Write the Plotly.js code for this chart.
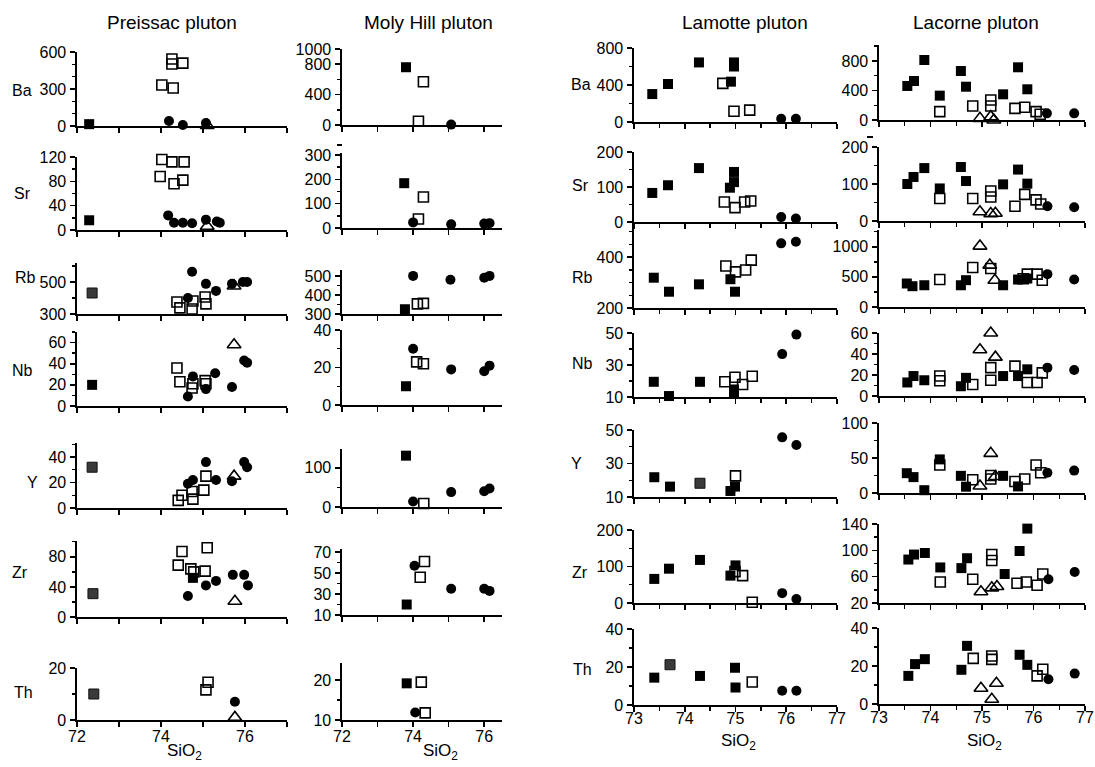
<!DOCTYPE html>
<html>
<head>
<meta charset="utf-8">
<script src="https://cdn.plot.ly/plotly-3.0.1.min.js"></script>
<style>html,body{margin:0;padding:0;background:#fff;}#chart{width:1095px;height:767px;}</style>
</head>
<body>
<div id="chart"></div>
<script>
// Groups: A = filled square, G = stippled (grey) square, B = open square, C = filled circle, D = open triangle
// Each point: [SiO2, element value, group]
const plutons = ['Preissac pluton', 'Moly Hill pluton', 'Lamotte pluton', 'Lacorne pluton'];
const elements = ['Ba', 'Sr', 'Rb', 'Nb', 'Y', 'Zr', 'Th'];

const preissacBa = [[72.29,15,'A'],[74.02,332,'B'],[74.26,543,'B'],[74.26,503,'B'],[74.52,510,'B'],[74.29,308,'B'],[74.19,40,'C'],[74.52,8,'C'],[75.07,24,'C'],[75.1,5,'D']];
const preissacSr = [[72.29,16,'A'],[74.02,116,'B'],[74.26,112,'B'],[74.55,112,'B'],[73.98,88,'B'],[74.31,76,'B'],[74.52,82,'B'],[74.17,24,'C'],[74.31,12,'C'],[74.52,12,'C'],[74.74,11,'C'],[75.07,17,'C'],[75.33,14,'C'],[75.4,12,'C'],[75.1,6,'D']];
const preissacRb = [[72.36,431,'G'],[74.38,375,'B'],[74.45,338,'B'],[74.76,381,'B'],[74.74,331,'B'],[75.05,406,'B'],[75.07,363,'B'],[74.64,400,'C'],[74.74,563,'C'],[75.07,488,'C'],[75.31,444,'C'],[75.69,488,'C'],[75.95,500,'C'],[76.05,500,'C'],[75.74,475,'D']];
const preissacNb = [[72.36,20,'A'],[74.38,36,'B'],[74.45,23,'B'],[74.74,17,'B'],[74.76,21,'B'],[75.05,24,'B'],[75.07,21,'B'],[74.76,28,'C'],[74.64,9,'C'],[75.07,16,'C'],[75.29,31,'C'],[75.69,18,'C'],[75.98,43,'C'],[76.05,41,'C'],[75.74,58,'D']];
const preissacY = [[72.36,32,'G'],[74.41,6,'B'],[74.5,10,'B'],[74.74,13,'B'],[74.76,7,'B'],[75.07,25,'B'],[75.02,14,'B'],[74.64,19,'C'],[74.76,22,'C'],[75.07,36,'C'],[75.31,22,'C'],[75.69,21,'C'],[75.98,36,'C'],[76.05,32,'C'],[75.74,25,'D']];
const preissacZr = [[72.38,31,'G'],[74.5,87,'B'],[74.41,69,'B'],[74.71,64,'B'],[74.78,60,'B'],[75.1,92,'B'],[75.05,61,'B'],[74.76,52,'A'],[74.64,28,'C'],[75.07,42,'C'],[75.31,48,'C'],[75.71,56,'C'],[75.98,56,'C'],[76.07,42,'C'],[75.76,21,'D']];
const preissacTh = [[72.4,10,'G'],[75.12,14.5,'B'],[75.07,11.6,'B'],[75.76,7,'C'],[75.76,1,'D']];

const molyBa = [[73.8,760,'A'],[74.29,570,'B'],[74.15,50,'B'],[75.07,5,'C']];
const molySr = [[73.75,184,'A'],[74.29,127,'B'],[74.15,37,'B'],[74.0,23,'C'],[75.07,15,'C'],[76.0,18,'C'],[76.15,20,'C']];
const molyRb = [[73.77,325,'A'],[74.12,353,'B'],[74.29,356,'B'],[74.0,500,'C'],[75.05,480,'C'],[76.0,490,'C'],[76.15,500,'C']];
const molyNb = [[73.8,10,'A'],[74.1,23,'B'],[74.29,22,'B'],[74.0,30,'C'],[75.07,19,'C'],[76.0,18,'C'],[76.15,21,'C']];
const molyY = [[73.8,131,'A'],[74.3,9,'B'],[74.0,14,'C'],[75.07,38,'C'],[76.0,40,'C'],[76.15,47,'C']];
const molyZr = [[73.82,20,'A'],[74.32,61,'B'],[74.2,46,'B'],[74.04,57,'C'],[75.07,35,'C'],[76.0,35,'C'],[76.15,33,'C']];
const molyTh = [[73.82,19.2,'A'],[74.23,19.5,'B'],[74.34,11.8,'B'],[74.06,11.9,'C']];

const lamotteBa = [[73.36,302,'A'],[73.67,411,'A'],[74.28,644,'A'],[74.97,644,'A'],[74.97,600,'A'],[74.91,436,'A'],[74.75,418,'B'],[74.97,117,'B'],[75.28,128,'B'],[75.9,36,'C'],[76.19,36,'C']];
const lamotteSr = [[73.36,83,'A'],[73.67,105,'A'],[74.28,154,'A'],[74.97,143,'A'],[74.97,114,'A'],[74.89,98,'A'],[74.78,57,'B'],[74.99,41,'B'],[75.18,57,'B'],[75.3,60,'B'],[75.9,14,'C'],[76.19,10,'C']];
const lamotteRb = [[73.39,319,'A'],[73.69,264,'A'],[74.28,293,'A'],[74.9,313,'A'],[74.99,264,'A'],[74.81,365,'B'],[75.0,342,'B'],[75.2,349,'B'],[75.31,388,'B'],[75.9,454,'C'],[76.19,460,'C']];
const lamotteNb = [[73.39,19.5,'A'],[73.69,10.6,'A'],[74.3,19.5,'A'],[74.97,14.7,'A'],[74.97,12.5,'A'],[74.79,19.5,'B'],[74.99,22.3,'B'],[75.14,17.8,'B'],[75.33,23,'B'],[75.92,36.8,'C'],[76.2,49,'C']];
const lamotteY = [[73.4,21.8,'A'],[73.71,16.2,'A'],[74.3,18.2,'G'],[74.9,13.6,'A'],[74.99,16.2,'A'],[75.0,22.6,'B'],[75.92,45.6,'C'],[76.2,41,'C']];
const lamotteZr = [[73.4,66,'A'],[73.69,94,'A'],[74.3,118,'A'],[75.0,103,'A'],[74.9,75,'A'],[74.99,86,'B'],[75.14,75,'B'],[75.33,2,'B'],[75.92,27,'C'],[76.2,11,'C']];
const lamotteTh = [[73.4,14.4,'A'],[73.71,21.2,'G'],[74.3,15.3,'A'],[74.99,19.6,'A'],[75.0,9.2,'A'],[75.33,12.1,'B'],[75.92,7.5,'C'],[76.2,7.5,'C']];

const lacorneBa = [[73.55,461,'A'],[73.68,528,'A'],[73.88,813,'A'],[74.18,330,'A'],[74.59,664,'A'],[74.69,451,'A'],[75.41,348,'A'],[75.7,714,'A'],[75.88,416,'A'],[74.18,113,'B'],[74.82,190,'B'],[75.17,271,'B'],[75.17,190,'B'],[75.64,158,'B'],[75.83,172,'B'],[76.05,113,'B'],[76.13,77,'B'],[74.96,22,'D'],[75.17,45,'D'],[75.23,0,'D'],[76.26,90,'C'],[76.79,90,'C']];
const lacorneSr = [[73.55,100,'A'],[73.67,119,'A'],[73.88,143,'A'],[74.18,88,'A'],[74.59,146,'A'],[74.69,108,'A'],[75.41,99,'A'],[75.7,139,'A'],[75.88,101,'A'],[74.18,61,'B'],[74.82,61,'B'],[75.17,81,'B'],[75.17,65,'B'],[75.64,40,'B'],[75.83,72,'B'],[76.05,57,'B'],[76.14,46,'B'],[75.64,-17,'B'],[74.96,25,'D'],[75.17,20,'D'],[75.26,21,'D'],[76.27,40,'C'],[76.79,37,'C']];
const lacorneRb = [[73.54,390,'A'],[73.65,345,'A'],[73.88,361,'A'],[74.59,361,'A'],[74.69,445,'A'],[75.41,361,'A'],[75.7,456,'A'],[75.88,472,'A'],[74.18,456,'B'],[74.82,656,'B'],[75.17,640,'B'],[75.88,545,'B'],[76.07,545,'B'],[76.17,445,'B'],[75.8,470,'B'],[74.96,1011,'D'],[75.15,695,'D'],[75.25,445,'D'],[76.27,545,'C'],[76.79,456,'C']];
const lacorneNb = [[73.55,12.9,'A'],[73.67,19,'A'],[73.88,15,'A'],[74.59,9.3,'A'],[74.69,17.3,'A'],[75.41,19,'A'],[75.7,19,'A'],[75.88,25.4,'A'],[74.18,19,'B'],[74.18,14.5,'B'],[74.82,11,'B'],[75.17,27,'B'],[75.17,15,'B'],[75.64,28.5,'B'],[75.88,12.9,'B'],[76.07,12.9,'B'],[76.17,22,'B'],[74.96,44,'D'],[75.17,60,'D'],[75.26,37,'D'],[76.27,27,'C'],[76.79,24.7,'C']];
const lacorneY = [[73.54,28.3,'A'],[73.67,22.7,'A'],[73.88,4,'A'],[74.18,48,'A'],[74.59,24.5,'A'],[74.69,9,'A'],[75.41,24.5,'A'],[75.7,9.4,'A'],[74.18,40,'B'],[74.82,19,'B'],[75.17,20,'B'],[75.17,25,'B'],[75.64,16.5,'B'],[75.83,20,'B'],[76.05,40,'B'],[76.14,29,'B'],[75.17,56.6,'D'],[74.96,10,'D'],[75.26,23.5,'D'],[76.27,29,'C'],[76.79,32,'C']];
const lacorneZr = [[73.57,86,'A'],[73.68,93.6,'A'],[73.89,96,'A'],[74.19,74,'A'],[74.6,73,'A'],[74.71,88,'A'],[75.44,64,'A'],[75.73,99,'A'],[75.88,133,'A'],[74.19,52,'B'],[74.82,56,'B'],[75.19,93.6,'B'],[75.19,84.6,'B'],[75.68,50,'B'],[75.86,52,'B'],[76.07,47,'B'],[76.18,64,'B'],[74.98,37,'D'],[75.19,43,'D'],[75.29,45,'D'],[76.29,56,'C'],[76.8,67,'C']];
const lacorneTh = [[73.57,14.8,'A'],[73.7,21,'A'],[73.89,23.6,'A'],[74.6,18,'A'],[74.71,30.6,'A'],[75.73,25.9,'A'],[75.88,20.6,'A'],[74.83,24,'B'],[75.19,25.3,'B'],[75.19,23.5,'B'],[76.07,14.8,'B'],[76.18,18.3,'B'],[74.98,8.3,'D'],[75.28,10.9,'D'],[75.19,2.5,'D'],[76.29,13,'C'],[76.8,16,'C']];

// Y-axis tick labels per column and element
const tickPreissac = [[0,300,600],[0,40,80,120],[300,500],[0,20,40,60],[0,20,40],[0,40,80],[0,20]];
const tickMoly     = [[0,400,800,1000],[0,100,200,300],[300,400,500],[0,20,40],[0,100],[10,30,50,70],[10,20]];
const tickLamotte  = [[0,400,800],[0,100,200],[200,400],[10,30,50],[10,30,50],[0,100,200],[0,20,40]];
const tickLacorne  = [[0,400,800],[0,100,200],[0,500,1000],[0,20,40,60],[0,50,100],[20,60,100,140],[0,20,40]];
const xTicksLeft  = [72,74,76];
const xTicksRight = [73,74,75,76,77];

// ---------- layout geometry (pixels) ----------
const W = 1095, H = 767;
const FONT = 'Liberation Sans, Arial, Helvetica, sans-serif';
const colGeo = [
  {x0:77,  x1:287, range:[72,77],   ticks:xTicksLeft,  minor:1,   standoff:-4, titleX:172, sioX:184, sioY:752},
  {x0:342, x1:502, range:[72,76.5], ticks:xTicksLeft,  minor:1,   standoff:-4, titleX:428, sioX:440, sioY:752},
  {x0:634, x1:837, range:[73,77],   ticks:xTicksRight, minor:0.5, standoff:-7, titleX:745, sioX:738, sioY:742},
  {x0:879, x1:1085,range:[73,77],   ticks:xTicksRight, minor:0.5, standoff:-7, titleX:976, sioX:984, sioY:742}
];
// [top px, bottom px, yrange, minor dtick]
const rowGeo = [
  [[52,126,[0,600],100],[157,230,[0,120],20],[263,314,[300,618],100],[332,406,[0,70],10],[443,508,[0,51],10],[541,617,[0,101],20],[668,720,[0,20],10]],
  [[49,125,[0,1000],200],[153,228,[0,308],50],[270,314,[300,531],50],[330,405,[0,40],10],[449,507,[0,148],50],[549,615,[10,73],10],[663,720,[10,24.3],5]],
  [[48,122,[0,800],200],[152,222,[0,200],50],[224,308,[200,530],50],[333,397,[10,50],10],[430,497,[10,50],10],[530,603,[0,200],50],[629,705,[0,40],10]],
  [[45,120,[0,1016],200],[147,221,[0,200],50],[230,307,[0,1278],250],[333,396,[0,60],10],[423,493,[0,100],25],[524,603,[20,140],20],[628,704,[0,40],10]]
];
const labelPos = {
  0: [[22,90],[22,193],[25,277],[22,370],[32,482],[20,572],[23,692]],
  2: [[581,85],[580,185],[582,277],[582,363],[576,463],[580,572],[582,669]]
};

const dataCols = [
  [preissacBa, preissacSr, preissacRb, preissacNb, preissacY, preissacZr, preissacTh],
  [molyBa, molySr, molyRb, molyNb, molyY, molyZr, molyTh],
  [lamotteBa, lamotteSr, lamotteRb, lamotteNb, lamotteY, lamotteZr, lamotteTh],
  [lacorneBa, lacorneSr, lacorneRb, lacorneNb, lacorneY, lacorneZr, lacorneTh]
];
const tickCols = [tickPreissac, tickMoly, tickLamotte, tickLacorne];

const markerStyle = {
  A: {symbol:'square', size:10, color:'#000'},
  G: {symbol:'square', size:10, color:'#3a3a3a', line:{color:'#111', width:1}},
  B: {symbol:'square-open', size:10, color:'#000', line:{width:1.6}},
  C: {symbol:'circle', size:10, color:'#000'},
  D: {symbol:'triangle-up-open', size:12, color:'#000', line:{width:1.6}}
};
const groupOrder = ['B','D','A','G','C'];

const traces = [];
const layout = {
  width: W, height: H,
  margin: {l:0, r:0, t:0, b:0},
  paper_bgcolor: '#fff', plot_bgcolor: 'rgba(0,0,0,0)',
  showlegend: false,
  font: {family: FONT, color: '#000', size: 16},
  annotations: [],
  shapes: [
    // small stray marks above two of the Sr axes in the original print
    {type:'line', xref:'paper', yref:'paper', x0:337/W, x1:342/W, y0:1-145/H, y1:1-145/H, line:{color:'#000', width:2}},
    {type:'line', xref:'paper', yref:'paper', x0:867/W, x1:873/W, y0:1-137/H, y1:1-137/H, line:{color:'#000', width:2}}
  ]
};
const tickfont = {family: FONT, size: 16, color: '#000'};

let idx = 0;
for (let c = 0; c < 4; c++) {
  const cg = colGeo[c];
  for (let r = 0; r < 7; r++) {
    idx++;
    const [top, bot, yr, ymin] = rowGeo[c][r];
    const xn = idx === 1 ? 'x' : 'x' + idx;
    const yn = idx === 1 ? 'y' : 'y' + idx;
    const xa = idx === 1 ? 'xaxis' : 'xaxis' + idx;
    const ya = idx === 1 ? 'yaxis' : 'yaxis' + idx;
    const isBottom = r === 6;
    layout[xa] = {
      domain: [cg.x0 / W, cg.x1 / W], range: cg.range, anchor: yn,
      showline: true, linecolor: '#000', linewidth: 1.6,
      ticks: 'outside', ticklen: 5, tickwidth: 1.6, tickcolor: '#000',
      tickmode: 'array', tickvals: cg.ticks, ticktext: cg.ticks.map(String),
      showticklabels: isBottom, tickfont: tickfont, ticklabelstandoff: cg.standoff,
      minor: {dtick: cg.minor, tick0: 0, ticks: 'outside', ticklen: (cg.minor === 1 ? 5 : 4), tickwidth: 1.4, tickcolor: '#000', showgrid: false},
      showgrid: false, zeroline: false, fixedrange: true
    };
    const tv = tickCols[c][r];
    layout[ya] = {
      domain: [1 - bot / H, 1 - top / H], range: yr, anchor: xn,
      showline: true, linecolor: '#000', linewidth: 1.6,
      ticks: 'outside', ticklen: 5, tickwidth: 1.6, tickcolor: '#000',
      tickmode: 'array', tickvals: tv, ticktext: tv.map(String),
      tickfont: tickfont, ticklabelstandoff: 1,
      minor: {dtick: ymin, tick0: 0, ticks: 'outside', ticklen: 3, tickwidth: 1.4, tickcolor: '#000', showgrid: false},
      showgrid: false, zeroline: false, fixedrange: true
    };
    const pts = dataCols[c][r];
    groupOrder.forEach(g => {
      const sel = pts.filter(p => p[2] === g);
      if (!sel.length) return;
      traces.push({
        type: 'scatter', mode: 'markers',
        x: sel.map(p => p[0]), y: sel.map(p => p[1]),
        xaxis: xn, yaxis: yn, cliponaxis: false, hoverinfo: 'skip',
        marker: markerStyle[g]
      });
    });
    if (labelPos[c]) {
      const [lx, ly] = labelPos[c][r];
      layout.annotations.push({xref:'paper', yref:'paper', x: lx / W, y: 1 - ly / H, xanchor:'center', yanchor:'middle', showarrow:false, text: elements[r], font:{family:FONT, size:16, color:'#000'}});
    }
  }
  layout.annotations.push({xref:'paper', yref:'paper', x: cg.titleX / W, y: 1 - 22 / H, xanchor:'center', yanchor:'middle', showarrow:false, text: plutons[c], font:{family:FONT, size:19, color:'#000'}});
  layout.annotations.push({xref:'paper', yref:'paper', x: cg.sioX / W, y: 1 - cg.sioY / H, xanchor:'center', yanchor:'middle', showarrow:false, text: 'SiO<sub>2</sub>', font:{family:FONT, size:17, color:'#000'}});
}

Plotly.newPlot('chart', traces, layout, {staticPlot: true, displayModeBar: false});
</script>
</body>
</html>
